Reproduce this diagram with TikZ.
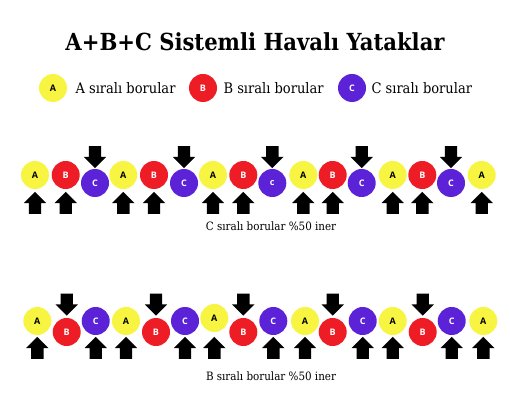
\documentclass[tikz,border=0pt]{standalone}
\usepackage{fontspec}
\setmainfont{DejaVu Serif Condensed}
\newfontfamily\letterfont{Open Sans}
\usepackage{xcolor}
\usetikzlibrary{shapes.arrows}
\definecolor{ayellow}{HTML}{F8F442}
\definecolor{bred}{HTML}{EE1C25}
\definecolor{cviolet}{HTML}{5B22D8}

\begin{document}
\begin{tikzpicture}[x=1pt,y=-1pt,
  roundnode/.style={circle, minimum size=28pt, inner sep=0pt, font=\letterfont\bfseries\fontsize{9}{10}\selectfont},
  anode/.style={roundnode, fill=ayellow, text=black},
  bnode/.style={roundnode, fill=bred, text=white},
  cnode/.style={roundnode, fill=cviolet, text=white},
  blockarrow/.style={single arrow, fill=black, inner xsep=0pt, inner ysep=6pt, single arrow head extend=5pt, minimum height=22pt, minimum width=0pt},
  uparrow/.style={blockarrow, rotate=90},
  downarrow/.style={blockarrow, rotate=-90},
  legendtext/.style={anchor=west, font=\fontsize{14.5}{16}\selectfont},
  rowtext/.style={font=\fontsize{11.5}{13}\selectfont}]
            \useasboundingbox (0,0) rectangle (510,411);

            % title and legend
            \node[font=\bfseries\fontsize{23.5}{26}\selectfont] (title) at (255,42) {A+B+C Sistemli Havalı Yataklar};
            \node[anode] (LA) at (53,88) {A};
            \node[legendtext] (LAt) at (72,88) {A sıralı borular};
            \node[bnode] (LB) at (203,88) {B};
            \node[legendtext] (LBt) at (220,88) {B sıralı borular};
            \node[cnode] (LC) at (352,88) {C};
            \node[legendtext] (LCt) at (368,88) {C sıralı borular};

            % first row: C lowered
            \node[anode] (A1) at (35,175) {A};
            \node[bnode] (B1) at (65.7,175) {B};
            \node[cnode] (C1) at (95,183) {C};
            \node[anode] (A2) at (123.3,175) {A};
            \node[bnode] (B2) at (154,175) {B};
            \node[cnode] (C2) at (184,183) {C};
            \node[anode] (A3) at (213,175) {A};
            \node[bnode] (B3) at (243.3,175) {B};
            \node[cnode] (C3) at (272.3,183) {c};
            \node[anode] (A4) at (303.3,175) {A};
            \node[bnode] (B4) at (332.7,175) {B};
            \node[cnode] (C4) at (361.7,183) {C};
            \node[anode] (A5) at (392.7,175) {A};
            \node[bnode] (B5) at (422.3,175) {B};
            \node[cnode] (C5) at (451,183) {C};
            \node[anode] (A6) at (481.7,175) {A};

            \node[downarrow] (d1) at (95,154) {};
            \node[downarrow] (d2) at (184,154) {};
            \node[downarrow] (d3) at (272.3,154) {};
            \node[downarrow] (d4) at (361.7,154) {};
            \node[downarrow] (d5) at (451,154) {};

            \node[uparrow] (u1) at (35,206) {};
            \node[uparrow] (u2) at (65.7,206) {};
            \node[uparrow] (u3) at (123.3,206) {};
            \node[uparrow] (u4) at (154,206) {};
            \node[uparrow] (u5) at (213,206) {};
            \node[uparrow] (u6) at (243.3,206) {};
            \node[uparrow] (u7) at (303.3,206) {};
            \node[uparrow] (u8) at (332.7,206) {};
            \node[uparrow] (u9) at (392.7,206) {};
            \node[uparrow] (u10) at (422.3,206) {};
            \node[uparrow] (u11) at (481.7,206) {};

            \node[rowtext] (T1) at (271,226) {C sıralı borular \%50 iner};

            % second row: B lowered
            \node[anode] (a1) at (37.3,321) {A};
            \node[bnode] (b1) at (66.7,332) {B};
            \node[cnode] (c1) at (95.7,321) {C};
            \node[anode] (a2) at (126,321) {A};
            \node[bnode] (b2) at (156,332) {B};
            \node[cnode] (c2) at (185,321) {C};
            \node[anode] (a3) at (214.3,318) {A};
            \node[bnode] (b3) at (243.3,332) {B};
            \node[cnode] (c3) at (273.3,321) {C};
            \node[anode] (a4) at (305,321) {A};
            \node[bnode] (b4) at (332.7,332) {B};
            \node[cnode] (c4) at (362.7,321) {C};
            \node[anode] (a5) at (392.7,321) {A};
            \node[bnode] (b5) at (422.7,332) {B};
            \node[cnode] (c5) at (451.7,321) {C};
            \node[anode] (a6) at (483.3,321) {A};

            \node[downarrow] (dd1) at (66.7,301.5) {};
            \node[downarrow] (dd2) at (156,301.5) {};
            \node[downarrow] (dd3) at (243.3,301.5) {};
            \node[downarrow] (dd4) at (332.7,301.5) {};
            \node[downarrow] (dd5) at (422.7,301.5) {};

            \node[uparrow] (uu1) at (37.3,351) {};
            \node[uparrow] (uu2) at (95.7,351) {};
            \node[uparrow] (uu3) at (126,351) {};
            \node[uparrow] (uu4) at (185,351) {};
            \node[uparrow] (uu5) at (214.3,351) {};
            \node[uparrow] (uu6) at (273.3,351) {};
            \node[uparrow] (uu7) at (305,351) {};
            \node[uparrow] (uu8) at (362.7,351) {};
            \node[uparrow] (uu9) at (392.7,351) {};
            \node[uparrow] (uu10) at (451.7,351) {};
            \node[uparrow] (uu11) at (483.3,351) {};

            \node[rowtext] (T2) at (271,376) {B sıralı borular \%50 iner};

        \end{tikzpicture}
\end{document}
